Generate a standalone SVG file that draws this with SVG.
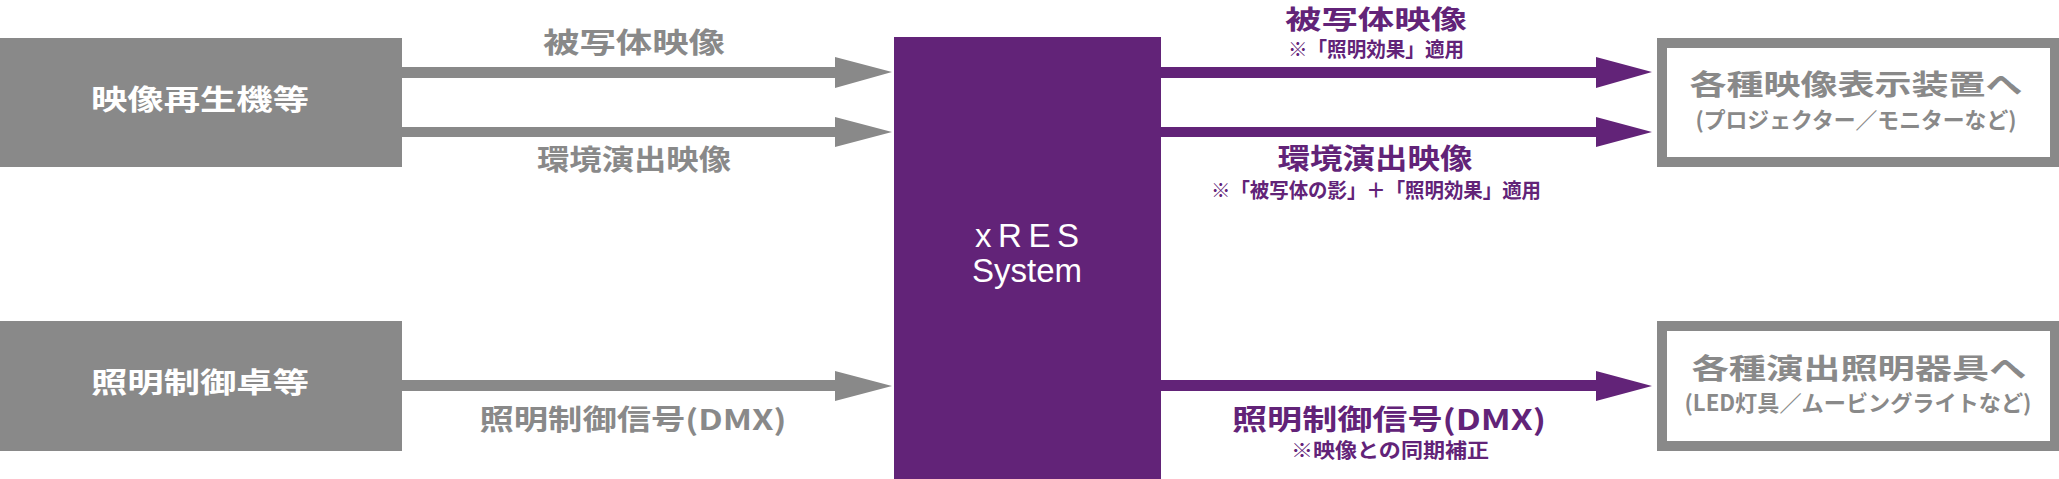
<svg xmlns="http://www.w3.org/2000/svg" width="2059" height="479" viewBox="0 0 2059 479">
<style>
text{font-family:"Noto Sans CJK JP","Noto Sans",sans-serif;font-weight:bold;text-anchor:middle}
.g{fill:#898989}.p{fill:#622378}.w{fill:#fff}
.big{font-size:28px}.sm{font-size:20px}.md{font-size:22px}
</style>
<rect width="2059" height="479" fill="#fff"/>
<g id="src-video"><rect x="0" y="38" width="402" height="129" fill="#898989"/><text class="w big" x="200" y="110" textLength="218" lengthAdjust="spacingAndGlyphs">映像再生機等</text></g>
<g id="src-light"><rect x="0" y="321" width="402" height="130" fill="#898989"/><text class="w big" x="200" y="393" textLength="218" lengthAdjust="spacingAndGlyphs">照明制御卓等</text></g>
<g id="xres"><rect x="894" y="37" width="267" height="442" fill="#622378"/><text class="w" style="font-family:'Liberation Sans',sans-serif;font-weight:normal;font-size:33px" x="1027" y="247" textLength="104" lengthAdjust="spacing">xRES</text><text class="w" style="font-family:'Liberation Sans',sans-serif;font-weight:normal;font-size:33px" x="1027" y="282">System</text></g>
<g id="out-video"><rect x="1662" y="43" width="393" height="119" fill="#fff" stroke="#898989" stroke-width="10"/><text class="g big" x="1856" y="95" textLength="333" lengthAdjust="spacingAndGlyphs">各種映像表示装置へ</text><text class="g md" x="1856" y="128" textLength="321" lengthAdjust="spacingAndGlyphs">(プロジェクター／モニターなど)</text></g>
<g id="out-light"><rect x="1662" y="326" width="393" height="120" fill="#fff" stroke="#898989" stroke-width="10"/><text class="g big" x="1859" y="379" textLength="335" lengthAdjust="spacingAndGlyphs">各種演出照明器具へ</text><text class="g md" x="1858" y="411" textLength="347" lengthAdjust="spacingAndGlyphs">(LED灯具／ムービングライトなど)</text></g>
<g id="connectors">
<polygon fill="#898989" points="402,67 835,67 835,57 892,72 835,88 835,78 402,78"/>
<polygon fill="#898989" points="402,127 835,127 835,117 892,132 835,147 835,137 402,137"/>
<polygon fill="#898989" points="402,380 835,380 835,371 892,386 835,401 835,391 402,391"/>
<polygon fill="#622378" points="1161,67 1596,67 1596,57 1652,72 1596,88 1596,78 1161,78"/>
<polygon fill="#622378" points="1161,127 1596,127 1596,117 1652,132 1596,147 1596,137 1161,137"/>
<polygon fill="#622378" points="1161,380 1596,380 1596,371 1652,386 1596,401 1596,391 1161,391"/>
<text class="g big" x="634" y="53" textLength="182" lengthAdjust="spacingAndGlyphs">被写体映像</text>
<text class="g big" x="634" y="170" textLength="194" lengthAdjust="spacingAndGlyphs">環境演出映像</text>
<text class="g big" x="633" y="430" textLength="307" lengthAdjust="spacingAndGlyphs">照明制御信号(DMX)</text>
<text class="p" style="font-size:26px" x="1376" y="29" textLength="182" lengthAdjust="spacingAndGlyphs">被写体映像</text>
<text class="p sm" x="1376" y="57" textLength="176" lengthAdjust="spacingAndGlyphs">※「照明効果」適用</text>
<text class="p big" x="1375" y="169" textLength="195" lengthAdjust="spacingAndGlyphs">環境演出映像</text>
<text class="p sm" x="1376" y="198" textLength="330" lengthAdjust="spacingAndGlyphs">※「被写体の影」＋「照明効果」適用</text>
<text class="p big" x="1389" y="430" textLength="314" lengthAdjust="spacingAndGlyphs">照明制御信号(DMX)</text>
<text class="p sm" x="1390" y="458" textLength="198" lengthAdjust="spacingAndGlyphs">※映像との同期補正</text>
</g>
</svg>
